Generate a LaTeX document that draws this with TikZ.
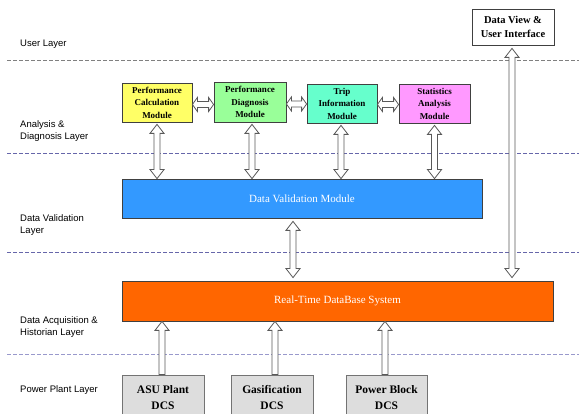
\documentclass[tikz,border=0pt]{standalone}
\usepackage{fontspec}
\setmainfont{Liberation Serif}
\setsansfont{Liberation Sans}
\usetikzlibrary{calc}
\definecolor{cyel}{HTML}{FFFF66}
\definecolor{cgrn}{HTML}{99FF99}
\definecolor{caqu}{HTML}{66FFCC}
\definecolor{cpnk}{HTML}{FF99FF}
\definecolor{cblu}{HTML}{3399FF}
\definecolor{corg}{HTML}{FF6600}
\definecolor{cdcs}{HTML}{DDDDDD}
\definecolor{dashg}{HTML}{808080}
\definecolor{dashb}{HTML}{6666AA}
\definecolor{dashl}{HTML}{9999CC}
\tikzset{
  box/.style={draw=black!75, line width=0.8pt, inner sep=0pt, align=center},
  modbox/.style={box, minimum width=70pt, minimum height=39pt,
    font=\fontsize{9}{12.5}\selectfont\bfseries},
  dcsbox/.style={box, fill=cdcs, draw=black!55, minimum width=82pt, minimum height=46pt,
    font=\fontsize{11.5}{16}\selectfont\bfseries},
  layerlabel/.style={anchor=west, inner sep=0pt, align=left,
    font=\sffamily\fontsize{9.5}{12}\selectfont},
  sep/.style={dash pattern=on 4pt off 2pt, line width=0.8pt},
  barrow/.style={draw=black!65, fill=white, line width=0.8pt, line join=miter}
}
\newcommand{\vdblarrow}[2]{\draw[barrow] let \p1=(#1), \p2=(#2) in
  (\x1,\y1) -- ({\x1+7pt},{\y1-9pt}) -- ({\x1+3pt},{\y1-9pt}) -- ({\x1+3pt},{\y2+9pt})
  -- ({\x1+7pt},{\y2+9pt}) -- (\x1,\y2) -- ({\x1-7pt},{\y2+9pt}) -- ({\x1-3pt},{\y2+9pt})
  -- ({\x1-3pt},{\y1-9pt}) -- ({\x1-7pt},{\y1-9pt}) -- cycle;}
\newcommand{\upblockarrow}[2]{\draw[barrow] let \p1=(#1), \p2=(#2) in
  (\x1,\y1) -- ({\x1+7pt},{\y1-9pt}) -- ({\x1+3pt},{\y1-9pt}) -- ({\x1+3pt},\y2)
  -- ({\x1-3pt},\y2) -- ({\x1-3pt},{\y1-9pt}) -- ({\x1-7pt},{\y1-9pt}) -- cycle;}
\newcommand{\hdblarrow}[2]{\draw[barrow] let \p1=(#1), \p2=(#2) in
  (\x1,\y1) -- ({\x1+5pt},{\y1+7pt}) -- ({\x1+5pt},{\y1+3pt}) -- ({\x2-5pt},{\y1+3pt})
  -- ({\x2-5pt},{\y1+7pt}) -- (\x2,\y1) -- ({\x2-5pt},{\y1-7pt}) -- ({\x2-5pt},{\y1-3pt})
  -- ({\x1+5pt},{\y1-3pt}) -- ({\x1+5pt},{\y1-7pt}) -- cycle;}
\begin{document}
\begin{tikzpicture}[x=1pt, y=-1pt]
\useasboundingbox (0,0) rectangle (579,414);
\fill[white] (0,0) rectangle (579,414);

% layer separators
\draw[sep, dashg] (7,60) -- (579,60);
\draw[sep, dashb] (7,153.5) -- (579,153.5);
\draw[sep, dashb] (7,252) -- (579,252);
\draw[sep, dashl] (7,354) -- (579,354);

% layer labels
\node[layerlabel] (lu) at (20,44) {User Layer};
\node[layerlabel] (la) at (20,131.5) {Analysis \&\\Diagnosis Layer};
\node[layerlabel] (lv) at (20,225) {Data Validation\\Layer};
\node[layerlabel] (lq) at (20,327) {Data Acquisition \&\\Historian Layer};
\node[layerlabel] (lp) at (20,390) {Power Plant Layer};

% boxes
\node[box, fill=white, minimum width=82pt, minimum height=36pt,
  font=\fontsize{10.5}{14}\selectfont\bfseries] (ui) at (513,27) {Data View \&\\User Interface};
\node[modbox, fill=cyel] (pc) at (157,102.5) {Performance\\Calculation\\Module};
\node[modbox, fill=cgrn, minimum width=72pt, minimum height=40pt] (pd) at (250,102) {Performance\\Diagnosis\\Module};
\node[modbox, fill=caqu] (ti) at (342,103.5) {Trip\\Information\\Module};
\node[modbox, fill=cpnk, minimum width=71pt] (sa) at (434.5,103.5) {Statistics\\Analysis\\Module};
\node[box, fill=cblu, text=white, minimum width=360pt, minimum height=39pt,
  font=\fontsize{11}{13}\selectfont] (dv) at (302,198.5) {Data Validation Module};
\node[box, fill=corg, text=white, minimum width=431pt, minimum height=40pt,
  font=\fontsize{11}{13}\selectfont] (rt) at (337.5,301) {Real-Time DataBase System};
\node[dcsbox] (asu) at (163,398) {ASU Plant\\DCS};
\node[dcsbox] (gas) at (272,398) {Gasification\\DCS};
\node[dcsbox, minimum width=81pt] (pb) at (386.5,398) {Power Block\\DCS};

% horizontal links between modules
\hdblarrow{[yshift=-2pt]pc.east}{pd.west}
\hdblarrow{[yshift=-2pt]pd.east}{ti.west}
\hdblarrow{[yshift=-1pt]ti.east}{sa.west}

% module <-> validation
\vdblarrow{[yshift=-2pt]pc.south}{dv.north}
\vdblarrow{[xshift=2pt,yshift=-2pt]pd.south}{dv.north}
\vdblarrow{[xshift=-1pt,yshift=-2pt]ti.south}{dv.north}
\vdblarrow{[yshift=-2pt]sa.south}{dv.north}

% validation <-> database
\vdblarrow{[xshift=-9pt,yshift=-3pt]dv.south}{[yshift=3pt]rt.north}

% user interface <-> database
\vdblarrow{[xshift=-1pt,yshift=-3pt]ui.south}{[yshift=3pt]rt.north}

% DCS -> database
\upblockarrow{[xshift=-1pt]rt.south -| asu.north}{asu.north}
\upblockarrow{[xshift=3pt]rt.south -| gas.north}{gas.north}
\upblockarrow{[xshift=-1.5pt]rt.south -| pb.north}{pb.north}
\end{tikzpicture}
\end{document}
